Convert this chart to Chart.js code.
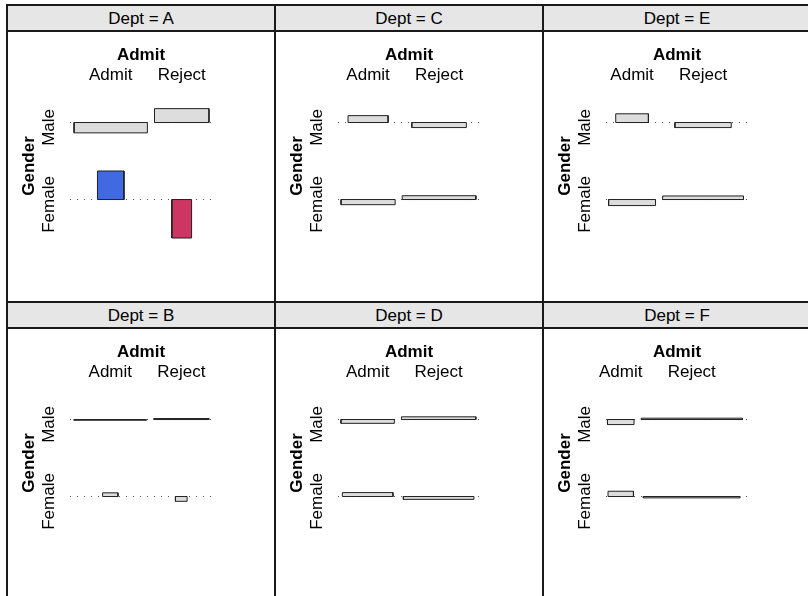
<!DOCTYPE html>
<html>
<head>
<meta charset="utf-8">
<script src="https://cdn.jsdelivr.net/npm/chart.js@4.4.1/dist/chart.umd.min.js"></script>
<style>
  html, body { margin: 0; padding: 0; background: #fff; overflow: hidden; }
  #grid {
    position: absolute; left: 6px; top: 4px;
    border: 1px solid #1a1a1a;
    display: grid;
    grid-template-columns: repeat(3, 268px);
    grid-template-rows: repeat(2, 297px);
  }
  .panel { box-sizing: border-box; border: 1px solid #1a1a1a; width: 268px; height: 297px; overflow: hidden; }
  .strip {
    box-sizing: border-box;
    height: 26px; padding-top: 3px; line-height: 21px;
    background: #e6e6e6; border-bottom: 2px solid #1a1a1a;
    text-align: center; color: #000;
    font: 17px "Liberation Sans", Arial, sans-serif;
  }
  canvas { display: block; }
</style>
</head>
<body>
<div id="grid"></div>
<script>
// UCB admissions, association plot per department
const depts = ['A', 'B', 'C', 'D', 'E', 'F'];
const admitLevels = ['Admit', 'Reject'];
const genderLevels = ['Male', 'Female'];

// bar widths: sqrt of expected counts
const maleAdmitWidth    = [23.05, 18.82, 10.68, 11.90,  6.93,  4.90];
const maleRejectWidth   = [17.13, 14.35, 14.53, 16.59, 11.95, 18.68];
const femaleAdmitWidth  = [ 8.34,  3.98, 14.42, 11.29,  9.95,  4.69];
const femaleRejectWidth = [ 6.20,  3.03, 19.62, 15.74, 17.15, 17.86];

// bar heights: Pearson residuals
const maleAdmitResid    = [-0.84, -0.06,  0.56, -0.31,  0.71, -0.41];
const maleRejectResid   = [ 1.13,  0.08, -0.41,  0.22, -0.41,  0.11];
const femaleAdmitResid  = [ 2.32,  0.30, -0.42,  0.32, -0.49,  0.43];
const femaleRejectResid = [-3.13, -0.39,  0.31, -0.23,  0.29, -0.11];

// panels are laid out row by row: A C E / B D F
const panelOrder = [0, 2, 4, 1, 3, 5];

const FONT = '"Liberation Sans", Arial, sans-serif';
const fillGray = '#dddddd';
const fillBlue = '#4169e1';
const fillRed = '#cd3562';

// vertical scale in residual units (shared by all panels)
const Y_MIN = -14.51;
const Y_MAX = 7.36;
const ROW_BASE = [0, -6.26];
const LABEL_SHIFT = -0.4;

function shade(r) {
    if (r > 2) return fillBlue;
    if (r < -2) return fillRed;
    return fillGray;
}

function buildPanel(d) {
    const widths = [
        [maleAdmitWidth[d], maleRejectWidth[d]],
        [femaleAdmitWidth[d], femaleRejectWidth[d]]
    ];
    const resid = [
        [maleAdmitResid[d], maleRejectResid[d]],
        [femaleAdmitResid[d], femaleRejectResid[d]]
    ];
    const colWidth = [0, 1].map(j => Math.max(widths[0][j], widths[1][j]));
    const total = colWidth[0] + colWidth[1];
    const colCenter = [colWidth[0] / 2, colWidth[0] + colWidth[1] / 2];

    const datasets = [];
    // residual bars
    genderLevels.forEach((g, i) => {
        admitLevels.forEach((a, j) => {
            const half = 0.9 * widths[i][j] / 2;
            const x0 = colCenter[j] - half, x1 = colCenter[j] + half;
            const base = ROW_BASE[i], top = base + resid[i][j];
            datasets.push({
                label: g + ' / ' + a,
                data: [
                    {x: x0, y: base}, {x: x0, y: top}, {x: x1, y: top},
                    {x: x1, y: base}, {x: x0, y: base}
                ],
                fill: 'shape',
                backgroundColor: shade(resid[i][j]),
                borderColor: '#222222',
                borderWidth: 1,
                pointRadius: 0,
                tension: 0
            });
        });
    });
    // dotted baselines (last, so drawn underneath)
    genderLevels.forEach((g, i) => {
        datasets.push({
            label: g + ' baseline',
            data: [{x: 0, y: ROW_BASE[i]}, {x: total, y: ROW_BASE[i]}],
            fill: false,
            borderColor: '#555555',
            borderWidth: 1,
            borderDash: [1, 6],
            pointRadius: 0
        });
    });

    const panel = document.createElement('div');
    panel.className = 'panel';
    const strip = document.createElement('div');
    strip.className = 'strip';
    strip.textContent = 'Dept = ' + depts[d];
    panel.appendChild(strip);
    const canvas = document.createElement('canvas');
    canvas.width = 266;
    canvas.height = 269;
    panel.appendChild(canvas);
    document.getElementById('grid').appendChild(panel);

    const labels = {
        id: 'assocLabels',
        afterDraw(chart) {
            const {ctx, chartArea, scales: {x, y}} = chart;
            ctx.save();
            ctx.fillStyle = '#000';
            ctx.textAlign = 'center';
            ctx.textBaseline = 'alphabetic';

            ctx.font = 'bold 17px ' + FONT;
            ctx.fillText('Admit', (chartArea.left + chartArea.right) / 2, 27.5);
            ctx.font = '17px ' + FONT;
            admitLevels.forEach((a, j) => {
                ctx.fillText(a, x.getPixelForValue(colCenter[j]), 48);
            });

            const rowY = ROW_BASE.map(b => y.getPixelForValue(b + LABEL_SHIFT));
            genderLevels.forEach((g, i) => {
                ctx.save();
                ctx.translate(45.5, rowY[i]);
                ctx.rotate(-Math.PI / 2);
                ctx.fillText(g, 0, 0);
                ctx.restore();
            });
            ctx.save();
            ctx.font = 'bold 17px ' + FONT;
            ctx.translate(25.5, (rowY[0] + rowY[1]) / 2);
            ctx.rotate(-Math.PI / 2);
            ctx.fillText('Gender', 0, 0);
            ctx.restore();
            ctx.restore();
        }
    };

    new Chart(canvas.getContext('2d'), {
        type: 'line',
        data: { datasets: datasets },
        options: {
            responsive: false,
            animation: false,
            devicePixelRatio: 1,
            layout: { padding: { left: 62, right: 62, top: 0, bottom: 0 } },
            plugins: {
                legend: { display: false },
                tooltip: { enabled: false }
            },
            scales: {
                x: { type: 'linear', min: 0, max: total, display: false },
                y: { type: 'linear', min: Y_MIN, max: Y_MAX, display: false }
            }
        },
        plugins: [labels]
    });
}

panelOrder.forEach(buildPanel);
</script>
</body>
</html>
